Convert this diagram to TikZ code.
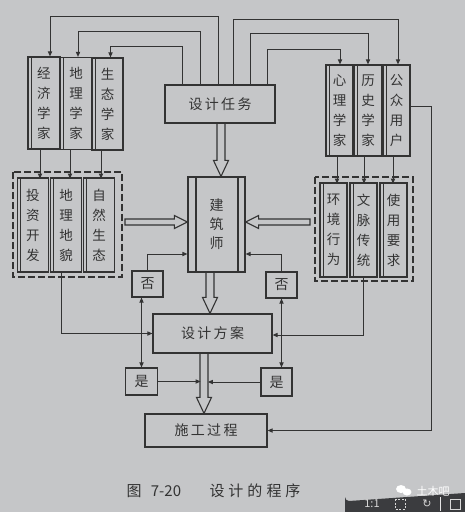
\documentclass[tikz,border=0pt]{standalone}
\usepackage{fontspec}
\setmainfont{Noto Sans CJK SC}
\newfontfamily\symfont{DejaVu Sans}
\usetikzlibrary{arrows.meta,calc}
\definecolor{paper}{HTML}{C5C6C8}
\definecolor{ink}{HTML}{333333}
\definecolor{bar}{HTML}{3B3C3F}
\definecolor{barText}{HTML}{D8D8D8}
\tikzset{
  base/.style={draw=ink, line width=1.2pt, inner sep=0pt, align=center, text=ink},
  vbox/.style={base, font=\fontsize{13.5}{20}\selectfont,
    path picture={\draw[ink, line width=0.7pt]
      ([xshift=3.2pt]path picture bounding box.north west) --
      ([xshift=3.2pt]path picture bounding box.south west);}},
  hbox/.style={base, font=\fontsize{14}{16}\selectfont},
  grp/.style={draw=ink, line width=1.1pt, dash pattern=on 7pt off 3pt},
  arr/.style={draw=ink, line width=1pt, -{Triangle[length=5pt,width=4.2pt]}},
  dbl/.style={draw=ink, line width=1pt, {Triangle[length=5pt,width=4.2pt]}-{Triangle[length=5pt,width=4.2pt]}},
  hollow/.style={draw=ink, line width=1.1pt, line join=miter},
  captxt/.style={text=ink, inner sep=0pt, font=\fontsize{15}{17}\selectfont},
  bartxt/.style={text=barText, inner sep=0pt, font=\fontsize{11}{12}\selectfont}
}
% hollow block arrows
\newcommand\hollowdown[2]{\draw[hollow] let \p1=(#1), \p2=(#2) in
  (\x1-4pt,\y1) -- (\x1-4pt,\y2+16pt) -- (\x1-7.5pt,\y2+16pt) -- (\x1,\y2)
  -- (\x1+7.5pt,\y2+16pt) -- (\x1+4pt,\y2+16pt) -- (\x1+4pt,\y1);}
\newcommand\hollowright[2]{\draw[hollow] let \p1=(#1), \p2=(#2) in
  (\x1,\y1+3pt) -- (\x2-13pt,\y1+3pt) -- (\x2-13pt,\y1+6.5pt) -- (\x2,\y1)
  -- (\x2-13pt,\y1-6.5pt) -- (\x2-13pt,\y1-3pt) -- (\x1,\y1-3pt) -- cycle;}
\newcommand\hollowleft[2]{\draw[hollow] let \p1=(#1), \p2=(#2) in
  (\x1,\y1+3pt) -- (\x2+13pt,\y1+3pt) -- (\x2+13pt,\y1+6.5pt) -- (\x2,\y1)
  -- (\x2+13pt,\y1-6.5pt) -- (\x2+13pt,\y1-3pt) -- (\x1,\y1-3pt) -- cycle;}
\begin{document}
\begin{tikzpicture}[x=1pt,y=-1pt]
\useasboundingbox (0,0) rectangle (465,512);
\fill[paper] (0,0) rectangle (465,512);

% top specialist boxes
\node[vbox, minimum width=32pt, minimum height=92pt] (jj) at (44,103) {经\\济\\学\\家};
\node[vbox, minimum width=31pt, minimum height=92pt] (dl) at (76,103.5) {地\\理\\学\\家};
\node[vbox, minimum width=31pt, minimum height=92pt] (st) at (107.5,104) {生\\态\\学\\家};
\node[vbox, minimum width=27pt, minimum height=91pt] (xl) at (339.5,110.5) {心\\理\\学\\家};
\node[vbox, minimum width=27pt, minimum height=91pt] (ls) at (368,110.5) {历\\史\\学\\家};
\node[vbox, minimum width=27pt, minimum height=91pt] (gz) at (396.5,110.5) {公\\众\\用\\户};

% design task
\node[hbox, minimum width=110pt, minimum height=38pt] (task) at (220,104) {设\,计\,任\,务};

% lower factor boxes
\node[vbox, minimum width=31pt, minimum height=94pt] (tz) at (33,225) {投\\资\\开\\发};
\node[vbox, minimum width=31pt, minimum height=94pt] (dm) at (66,225) {地\\理\\地\\貌};
\node[vbox, minimum width=31pt, minimum height=94pt] (zr) at (99,225) {自\\然\\生\\态};
\node[vbox, minimum width=27pt, minimum height=94pt] (hj) at (333.5,230) {环\\境\\行\\为};
\node[vbox, minimum width=27pt, minimum height=94pt] (wm) at (363.5,230) {文\\脉\\传\\统};
\node[vbox, minimum width=27pt, minimum height=94pt] (sy) at (393.5,230) {使\\用\\要\\求};

% dashed groups
\draw[grp] (13,172) rectangle (122,277);
\draw[grp] (315,177) rectangle (413,281);

% architect
\node[base, minimum width=57pt, minimum height=95pt, font=\fontsize{14}{19}\selectfont,
  path picture={\draw[ink, line width=1.1pt]
    ([xshift=8pt]path picture bounding box.north west) -- ([xshift=8pt]path picture bounding box.south west)
    ([xshift=-7pt]path picture bounding box.north east) -- ([xshift=-7pt]path picture bounding box.south east);}]
  (jzs) at (216.5,224.5) {建\\筑\\师};

% scheme and construction
\node[hbox, minimum width=119pt, minimum height=39pt] (fa) at (212.5,333.5) {设\,计\,方\,案};
\node[hbox, minimum width=122pt, minimum height=33pt] (sg) at (206,430.5) {施\,工\,过\,程};

% yes / no
\node[hbox, minimum width=31pt, minimum height=26pt] (f1) at (147.5,284) {否};
\node[hbox, minimum width=31pt, minimum height=26pt] (f2) at (281.5,285) {否};
\node[hbox, minimum width=32pt, minimum height=27pt] (s1) at (141.5,381.5) {是};
\node[hbox, minimum width=31pt, minimum height=28pt] (s2) at (276.5,382) {是};

% task -> specialists
\draw[arr] ([xshift=-2pt]task.north) -- ++(0,-68) -| ([xshift=6pt]jj.north);
\draw[arr] ([xshift=-20pt]task.north) -- ++(0,-53) -| ([xshift=2pt]dl.north);
\draw[arr] ([xshift=-38pt]task.north) -- ++(0,-38) -| ([xshift=3pt]st.north);
\draw[arr] ([xshift=13pt]task.north) -- ++(0,-65) -| ([xshift=1.5pt]gz.north);
\draw[arr] ([xshift=30pt]task.north) -- ++(0,-51) -| (ls.north);
\draw[arr] ([xshift=47pt]task.north) -- ++(0,-35) -| ([xshift=0.5pt]xl.north);

% specialists -> factors
\draw[arr] ([xshift=-4pt]jj.south) -- ++(0,29);
\draw[arr] ([xshift=-6pt]dl.south) -- ++(0,28.5);
\draw[arr] ([xshift=-6.5pt]st.south) -- ++(0,28);
\draw[arr] ([xshift=-2.5pt]xl.south) -- ++(0,27);
\draw[arr] ([xshift=-4pt]ls.south) -- ++(0,27);
\draw[arr] ([xshift=-3.5pt]gz.south) -- ++(0,27);

% hollow block arrows
\coordinate (la) at (125,222);
\coordinate (ra) at (310,222);
\hollowdown{[xshift=1pt]task.south}{jzs.north}
\hollowright{la}{jzs.west}
\hollowleft{ra}{jzs.east}
\hollowdown{[xshift=-6.5pt]jzs.south}{fa.north}
\hollowdown{[xshift=-8.5pt]fa.south}{sg.north}

% feedback loops
\draw[arr] (f1.north) |- ([yshift=-29.5pt]jzs.west);
\draw[arr] (f2.north) |- ([yshift=-29.5pt]jzs.east);
\draw[dbl] (s1.north) -- (s1.north |- f1.south);
\draw[dbl] (f2.south) -- (f2.south |- s2.north);
\draw[arr] (s1.east) -- ++(42.5,0);
\draw[arr] (s2.west) -- ++(-52.5,0);

% factor groups -> scheme
\draw[arr] ([xshift=-5pt]dm.south) |- (fa.west);
\draw[arr] ([xshift=-0.5pt]wm.south) |- ([yshift=-1.5pt]fa.east);

% users -> construction
\draw[arr] ([yshift=4.5pt]gz.east) -- ++(21,0) |- (sg.east);

% caption
\node[captxt] (c1) at (134,491) {图};
\node[captxt] (c2) at (166,491) {7-20};
\node[captxt] (c3) at (255,491) {设\hspace{4pt}计\hspace{4pt}的\hspace{4pt}程\hspace{4pt}序};

% viewer toolbar and watermark
\fill[bar] (345,512) -- (345,497) arc[start angle=180, end angle=270, radius=4pt] -- (465,493) -- (465,512) -- cycle;
\node[bartxt] (t1) at (372,504) {1:1};
\draw[barText, line width=0.8pt, dash pattern=on 2pt off 1.5pt] (395,499) rectangle (405,509);
\node[bartxt, font=\symfont\fontsize{11}{12}\selectfont] (t2) at (427,504) {↻};
\draw[barText!70, line width=0.6pt] (440,497) -- (440,511);
\draw[barText, line width=0.8pt] (450,499) rectangle (460,509);
\fill[white] (401,489) ellipse[x radius=5pt, y radius=4pt];
\fill[white] (407,492) ellipse[x radius=4.5pt, y radius=3.5pt];
\node[text=white, inner sep=0pt, font=\fontsize{11}{12}\selectfont] (wmk) at (433,491) {土木吧};
\end{tikzpicture}
\end{document}
